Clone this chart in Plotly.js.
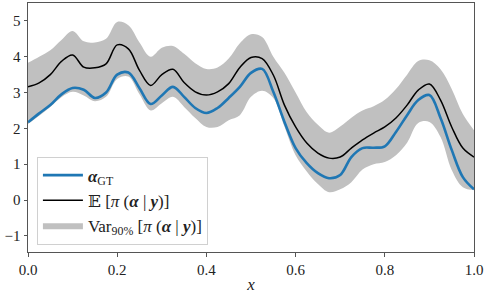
<!DOCTYPE html>
<html>
<head>
<meta charset="utf-8">
<script src="https://cdn.plot.ly/plotly-3.0.1.min.js"></script>
<style>html,body{margin:0;padding:0;background:#fff;}#chart{width:489px;height:294px;}</style>
</head>
<body>
<div id="chart"></div>
<script>
const xGrid = [0,0.025,0.05,0.075,0.1,0.125,0.15,0.175,0.2,0.225,0.25,0.275,0.3,0.325,0.35,0.375,0.4,0.425,0.45,0.475,0.5,0.525,0.55,0.575,0.6,0.625,0.65,0.675,0.7,0.725,0.75,0.775,0.8,0.825,0.85,0.875,0.9,0.925,0.95,0.975,1.0];
const alphaGT = [2.17,2.42,2.65,2.95,3.13,3.08,2.85,3.0,3.5,3.56,3.12,2.68,2.92,3.16,2.88,2.57,2.43,2.57,2.85,3.16,3.55,3.66,3.02,2.18,1.45,1.03,0.75,0.61,0.7,1.2,1.45,1.46,1.5,1.9,2.37,2.79,2.93,2.29,1.4,0.64,0.3];
const meanPost = [3.16,3.27,3.5,3.87,4.05,3.71,3.69,3.8,4.33,4.22,3.62,3.2,3.5,3.65,3.28,3.02,2.93,3.02,3.25,3.7,3.98,3.95,3.49,2.65,2.04,1.59,1.31,1.17,1.2,1.45,1.68,1.87,2.04,2.29,2.65,3.07,3.24,2.79,2.04,1.45,1.2];
const upperBand = [3.83,4.0,4.18,4.47,4.72,4.43,4.4,4.5,4.97,4.88,4.4,4.0,4.25,4.3,4.08,3.82,3.66,3.7,3.95,4.38,4.63,4.55,4.0,3.55,3.0,2.45,2.1,1.88,2.05,2.3,2.5,2.62,2.8,3.1,3.5,3.88,3.9,3.65,3.1,2.4,1.95];
const lowerBand = [2.12,2.35,2.6,2.87,3.02,2.92,2.76,2.88,3.38,3.45,2.95,2.5,2.7,2.88,2.6,2.29,2.04,2.04,2.23,2.37,2.88,3.05,2.85,2.05,1.25,0.8,0.45,0.22,0.3,0.5,0.85,1.0,1.06,1.25,1.6,2.15,2.18,1.76,0.84,0.36,0.28];
const xTicks = [0,0.2,0.4,0.6,0.8,1.0];
const xTickText = ['0.0','0.2','0.4','0.6','0.8','1.0'];
const yTicks = [-1,0,1,2,3,4,5];
const yTickText = ['\u22121','0','1','2','3','4','5'];

const FONT = 'Liberation Serif, DejaVu Serif, serif';
const traces = [
  {x: xGrid, y: lowerBand, type: 'scatter', mode: 'lines', line: {width: 0, shape: 'spline', smoothing: 1}, showlegend: false, hoverinfo: 'skip'},
  {x: xGrid, y: upperBand, type: 'scatter', mode: 'lines', fill: 'tonexty', fillcolor: '#c0c0c0', line: {width: 0, shape: 'spline', smoothing: 1}, name: 'Var<sub>90%</sub> [<i>π</i> (<b><i>α</i></b> | <b><i>y</i></b>)]', legendrank: 3},
  {x: xGrid, y: alphaGT, type: 'scatter', mode: 'lines', line: {color: '#1f77b4', width: 2.6, shape: 'spline', smoothing: 1}, name: '<b><i>α</i></b><sub>GT</sub>', legendrank: 1},
  {x: xGrid, y: meanPost, type: 'scatter', mode: 'lines', line: {color: '#000000', width: 1.5, shape: 'spline', smoothing: 1}, name: '\uD835\uDD3C [<i>π</i> (<b><i>α</i></b> | <b><i>y</i></b>)]', legendrank: 2}
];
const layout = {
  width: 489, height: 294,
  margin: {l: 28, r: 15, t: 3, b: 42},
  paper_bgcolor: '#fff', plot_bgcolor: '#fff',
  font: {family: FONT, size: 15, color: '#222'},
  showlegend: true,
  legend: {x: 0.02, y: 0.03, xanchor: 'left', yanchor: 'bottom', traceorder: 'normal', itemwidth: 40, bgcolor: 'rgba(255,255,255,0.85)', bordercolor: '#d0d0d0', borderwidth: 1, font: {family: FONT, size: 17, color: '#222'}, tracegroupgap: 0},
  xaxis: {range: [0, 1], tickvals: xTicks, ticktext: xTickText, showgrid: false, zeroline: false, showline: true, mirror: true, linecolor: '#555', linewidth: 1, ticks: 'outside', ticklen: 3.5, tickcolor: '#555',
    title: {text: '<i>x</i>', font: {family: FONT, size: 17}, standoff: 4}},
  yaxis: {range: [-1.45, 5.5], tickvals: yTicks, ticktext: yTickText, showgrid: false, zeroline: false, showline: true, mirror: true, linecolor: '#555', linewidth: 1, ticks: 'outside', ticklen: 3.5, tickcolor: '#555'}
};
Plotly.newPlot('chart', traces, layout, {displayModeBar: false, staticPlot: true});
</script>
</body>
</html>
